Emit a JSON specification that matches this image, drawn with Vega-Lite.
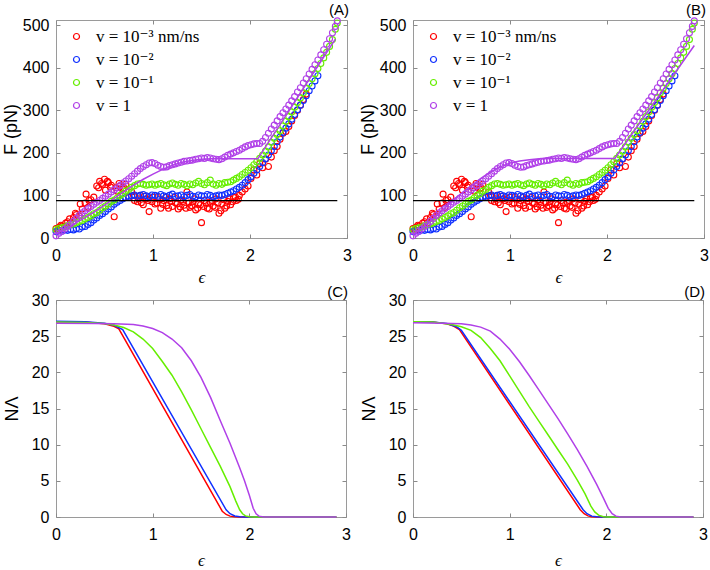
{
"$schema": "https://vega.github.io/schema/vega-lite/v6.json",
"padding": {"left": 2, "top": 2, "right": 2, "bottom": 0},
"background": "white",
"datasets": {
"pts": [
{"s":"a","e":0,"f":22},{"s":"a","e":0.02,"f":18},{"s":"a","e":0.03,"f":25},{"s":"a","e":0.05,"f":30},{"s":"a","e":0.06,"f":28},{"s":"a","e":0.09,"f":27},{"s":"a","e":0.1,"f":35},{"s":"a","e":0.12,"f":38},{"s":"a","e":0.14,"f":45},{"s":"a","e":0.15,"f":35},{"s":"a","e":0.18,"f":48},{"s":"a","e":0.2,"f":58},{"s":"a","e":0.21,"f":55},{"s":"a","e":0.24,"f":52},{"s":"a","e":0.25,"f":80},{"s":"a","e":0.27,"f":68},{"s":"a","e":0.3,"f":82},{"s":"a","e":0.31,"f":103},{"s":"a","e":0.33,"f":72},{"s":"a","e":0.34,"f":88},{"s":"a","e":0.36,"f":90},{"s":"a","e":0.39,"f":96},{"s":"a","e":0.42,"f":122},{"s":"a","e":0.44,"f":118},{"s":"a","e":0.45,"f":133},{"s":"a","e":0.47,"f":128},{"s":"a","e":0.48,"f":125},{"s":"a","e":0.5,"f":138},{"s":"a","e":0.51,"f":112},{"s":"a","e":0.53,"f":133},{"s":"a","e":0.54,"f":130},{"s":"a","e":0.56,"f":120},{"s":"a","e":0.57,"f":124},{"s":"a","e":0.6,"f":50},{"s":"a","e":0.62,"f":118},{"s":"a","e":0.63,"f":110},{"s":"a","e":0.65,"f":128},{"s":"a","e":0.66,"f":122},{"s":"a","e":0.69,"f":115},{"s":"a","e":0.7,"f":118},{"s":"a","e":0.72,"f":126},{"s":"a","e":0.75,"f":95},{"s":"a","e":0.78,"f":108},{"s":"a","e":0.8,"f":100},{"s":"a","e":0.81,"f":88},{"s":"a","e":0.84,"f":85},{"s":"a","e":0.85,"f":92},{"s":"a","e":0.87,"f":100},{"s":"a","e":0.88,"f":83},{"s":"a","e":0.9,"f":78},{"s":"a","e":0.91,"f":98},{"s":"a","e":0.93,"f":92},{"s":"a","e":0.95,"f":88},{"s":"a","e":0.96,"f":62},{"s":"a","e":0.99,"f":85},{"s":"a","e":1.0,"f":96},{"s":"a","e":1.02,"f":80},{"s":"a","e":1.04,"f":82},{"s":"a","e":1.05,"f":95},{"s":"a","e":1.07,"f":91},{"s":"a","e":1.08,"f":70},{"s":"a","e":1.1,"f":79},{"s":"a","e":1.11,"f":88},{"s":"a","e":1.13,"f":95},{"s":"a","e":1.14,"f":76},{"s":"a","e":1.16,"f":70},{"s":"a","e":1.17,"f":92},{"s":"a","e":1.19,"f":86},{"s":"a","e":1.2,"f":74},{"s":"a","e":1.22,"f":95},{"s":"a","e":1.23,"f":83},{"s":"a","e":1.25,"f":80},{"s":"a","e":1.26,"f":68},{"s":"a","e":1.28,"f":73},{"s":"a","e":1.29,"f":90},{"s":"a","e":1.31,"f":86},{"s":"a","e":1.32,"f":77},{"s":"a","e":1.34,"f":70},{"s":"a","e":1.35,"f":108},{"s":"a","e":1.37,"f":82},{"s":"a","e":1.38,"f":72},{"s":"a","e":1.4,"f":76},{"s":"a","e":1.41,"f":85},{"s":"a","e":1.43,"f":92},{"s":"a","e":1.44,"f":66},{"s":"a","e":1.46,"f":70},{"s":"a","e":1.47,"f":80},{"s":"a","e":1.49,"f":78},{"s":"a","e":1.5,"f":36},{"s":"a","e":1.52,"f":74},{"s":"a","e":1.53,"f":88},{"s":"a","e":1.55,"f":82},{"s":"a","e":1.56,"f":70},{"s":"a","e":1.58,"f":68},{"s":"a","e":1.59,"f":84},{"s":"a","e":1.61,"f":88},{"s":"a","e":1.62,"f":75},{"s":"a","e":1.64,"f":72},{"s":"a","e":1.65,"f":92},{"s":"a","e":1.67,"f":82},{"s":"a","e":1.68,"f":58},{"s":"a","e":1.7,"f":64},{"s":"a","e":1.71,"f":80},{"s":"a","e":1.73,"f":90},{"s":"a","e":1.74,"f":70},{"s":"a","e":1.76,"f":75},{"s":"a","e":1.77,"f":86},{"s":"a","e":1.79,"f":92},{"s":"a","e":1.8,"f":78},{"s":"a","e":1.82,"f":85},{"s":"a","e":1.83,"f":95},{"s":"a","e":1.85,"f":96},{"s":"a","e":1.86,"f":88},{"s":"a","e":1.88,"f":91},{"s":"a","e":1.89,"f":100},{"s":"a","e":1.92,"f":108},{"s":"a","e":1.95,"f":115},{"s":"a","e":1.98,"f":122},{"s":"a","e":2.01,"f":140},{"s":"a","e":2.04,"f":160},{"s":"a","e":2.07,"f":148},{"s":"a","e":2.1,"f":175},{"s":"a","e":2.13,"f":165},{"s":"a","e":2.16,"f":185},{"s":"a","e":2.19,"f":168},{"s":"a","e":2.22,"f":190},{"s":"a","e":2.25,"f":205},{"s":"a","e":2.28,"f":215},{"s":"a","e":2.31,"f":232},{"s":"a","e":2.34,"f":246},{"s":"a","e":2.37,"f":250},{"s":"a","e":2.4,"f":262},{"s":"a","e":2.43,"f":275},{"s":"a","e":2.46,"f":288},{"s":"a","e":2.49,"f":300},{"s":"a","e":2.52,"f":312},{"s":"a","e":2.55,"f":325},{"s":"a","e":2.58,"f":338},
{"s":"b","e":0,"f":15},{"s":"b","e":0.03,"f":17},{"s":"b","e":0.06,"f":16},{"s":"b","e":0.09,"f":19},{"s":"b","e":0.12,"f":18},{"s":"b","e":0.15,"f":20},{"s":"b","e":0.18,"f":19},{"s":"b","e":0.21,"f":22},{"s":"b","e":0.24,"f":21},{"s":"b","e":0.27,"f":26},{"s":"b","e":0.3,"f":27},{"s":"b","e":0.33,"f":32},{"s":"b","e":0.36,"f":36},{"s":"b","e":0.39,"f":42},{"s":"b","e":0.42,"f":47},{"s":"b","e":0.45,"f":53},{"s":"b","e":0.48,"f":57},{"s":"b","e":0.51,"f":62},{"s":"b","e":0.54,"f":68},{"s":"b","e":0.57,"f":73},{"s":"b","e":0.6,"f":79},{"s":"b","e":0.63,"f":84},{"s":"b","e":0.66,"f":88},{"s":"b","e":0.69,"f":92},{"s":"b","e":0.72,"f":95},{"s":"b","e":0.75,"f":98},{"s":"b","e":0.78,"f":99},{"s":"b","e":0.81,"f":101},{"s":"b","e":0.84,"f":98},{"s":"b","e":0.87,"f":100},{"s":"b","e":0.9,"f":102},{"s":"b","e":0.93,"f":99},{"s":"b","e":0.96,"f":97},{"s":"b","e":0.99,"f":101},{"s":"b","e":1.02,"f":100},{"s":"b","e":1.05,"f":98},{"s":"b","e":1.08,"f":102},{"s":"b","e":1.11,"f":99},{"s":"b","e":1.14,"f":97},{"s":"b","e":1.17,"f":100},{"s":"b","e":1.2,"f":103},{"s":"b","e":1.23,"f":98},{"s":"b","e":1.26,"f":99},{"s":"b","e":1.29,"f":101},{"s":"b","e":1.32,"f":97},{"s":"b","e":1.35,"f":100},{"s":"b","e":1.38,"f":102},{"s":"b","e":1.41,"f":98},{"s":"b","e":1.44,"f":97},{"s":"b","e":1.47,"f":101},{"s":"b","e":1.5,"f":99},{"s":"b","e":1.53,"f":98},{"s":"b","e":1.56,"f":102},{"s":"b","e":1.59,"f":100},{"s":"b","e":1.62,"f":97},{"s":"b","e":1.65,"f":99},{"s":"b","e":1.68,"f":101},{"s":"b","e":1.71,"f":100},{"s":"b","e":1.74,"f":102},{"s":"b","e":1.77,"f":105},{"s":"b","e":1.8,"f":108},{"s":"b","e":1.83,"f":111},{"s":"b","e":1.86,"f":115},{"s":"b","e":1.89,"f":119},{"s":"b","e":1.92,"f":124},{"s":"b","e":1.95,"f":130},{"s":"b","e":1.98,"f":137},{"s":"b","e":2.01,"f":144},{"s":"b","e":2.04,"f":152},{"s":"b","e":2.07,"f":160},{"s":"b","e":2.1,"f":168},{"s":"b","e":2.13,"f":177},{"s":"b","e":2.16,"f":186},{"s":"b","e":2.19,"f":195},{"s":"b","e":2.22,"f":205},{"s":"b","e":2.25,"f":215},{"s":"b","e":2.28,"f":226},{"s":"b","e":2.31,"f":237},{"s":"b","e":2.34,"f":248},{"s":"b","e":2.37,"f":258},{"s":"b","e":2.4,"f":268},{"s":"b","e":2.43,"f":279},{"s":"b","e":2.46,"f":290},{"s":"b","e":2.49,"f":301},{"s":"b","e":2.52,"f":312},{"s":"b","e":2.55,"f":323},{"s":"b","e":2.58,"f":334},{"s":"b","e":2.61,"f":346},{"s":"b","e":2.64,"f":357},{"s":"b","e":2.67,"f":369},{"s":"b","e":2.7,"f":381},
{"s":"c","e":0,"f":20},{"s":"c","e":0.03,"f":23},{"s":"c","e":0.06,"f":24},{"s":"c","e":0.09,"f":26},{"s":"c","e":0.12,"f":29},{"s":"c","e":0.15,"f":32},{"s":"c","e":0.18,"f":33},{"s":"c","e":0.21,"f":36},{"s":"c","e":0.24,"f":39},{"s":"c","e":0.27,"f":41},{"s":"c","e":0.3,"f":45},{"s":"c","e":0.33,"f":48},{"s":"c","e":0.36,"f":52},{"s":"c","e":0.39,"f":57},{"s":"c","e":0.42,"f":60},{"s":"c","e":0.45,"f":65},{"s":"c","e":0.48,"f":71},{"s":"c","e":0.51,"f":75},{"s":"c","e":0.54,"f":80},{"s":"c","e":0.57,"f":86},{"s":"c","e":0.6,"f":89},{"s":"c","e":0.63,"f":94},{"s":"c","e":0.66,"f":100},{"s":"c","e":0.69,"f":104},{"s":"c","e":0.72,"f":110},{"s":"c","e":0.75,"f":114},{"s":"c","e":0.78,"f":119},{"s":"c","e":0.81,"f":123},{"s":"c","e":0.84,"f":127},{"s":"c","e":0.87,"f":128},{"s":"c","e":0.9,"f":126},{"s":"c","e":0.93,"f":124},{"s":"c","e":0.96,"f":125},{"s":"c","e":0.99,"f":127},{"s":"c","e":1.02,"f":124},{"s":"c","e":1.05,"f":126},{"s":"c","e":1.08,"f":128},{"s":"c","e":1.11,"f":125},{"s":"c","e":1.14,"f":123},{"s":"c","e":1.17,"f":127},{"s":"c","e":1.2,"f":129},{"s":"c","e":1.23,"f":126},{"s":"c","e":1.26,"f":124},{"s":"c","e":1.29,"f":128},{"s":"c","e":1.32,"f":126},{"s":"c","e":1.35,"f":123},{"s":"c","e":1.38,"f":127},{"s":"c","e":1.41,"f":125},{"s":"c","e":1.44,"f":129},{"s":"c","e":1.47,"f":133},{"s":"c","e":1.5,"f":128},{"s":"c","e":1.53,"f":125},{"s":"c","e":1.56,"f":130},{"s":"c","e":1.59,"f":136},{"s":"c","e":1.62,"f":127},{"s":"c","e":1.65,"f":124},{"s":"c","e":1.68,"f":128},{"s":"c","e":1.71,"f":126},{"s":"c","e":1.74,"f":130},{"s":"c","e":1.77,"f":131},{"s":"c","e":1.8,"f":132},{"s":"c","e":1.83,"f":136},{"s":"c","e":1.86,"f":140},{"s":"c","e":1.89,"f":144},{"s":"c","e":1.92,"f":149},{"s":"c","e":1.95,"f":154},{"s":"c","e":1.98,"f":159},{"s":"c","e":2.01,"f":165},{"s":"c","e":2.04,"f":172},{"s":"c","e":2.07,"f":179},{"s":"c","e":2.1,"f":187},{"s":"c","e":2.13,"f":195},{"s":"c","e":2.16,"f":204},{"s":"c","e":2.19,"f":214},{"s":"c","e":2.22,"f":225},{"s":"c","e":2.25,"f":234},{"s":"c","e":2.28,"f":243},{"s":"c","e":2.31,"f":252},{"s":"c","e":2.34,"f":263},{"s":"c","e":2.37,"f":274},{"s":"c","e":2.4,"f":285},{"s":"c","e":2.43,"f":296},{"s":"c","e":2.46,"f":307},{"s":"c","e":2.49,"f":318},{"s":"c","e":2.52,"f":329},{"s":"c","e":2.55,"f":341},{"s":"c","e":2.58,"f":352},{"s":"c","e":2.61,"f":363},{"s":"c","e":2.64,"f":374},{"s":"c","e":2.67,"f":386},{"s":"c","e":2.7,"f":398},{"s":"c","e":2.73,"f":410},{"s":"c","e":2.76,"f":423},{"s":"c","e":2.79,"f":436},{"s":"c","e":2.82,"f":450},{"s":"c","e":2.85,"f":466},{"s":"c","e":2.88,"f":490},{"s":"c","e":2.9,"f":505},
{"s":"d","e":0,"f":5},{"s":"d","e":0.03,"f":11},{"s":"d","e":0.06,"f":16},{"s":"d","e":0.09,"f":21},{"s":"d","e":0.12,"f":27},{"s":"d","e":0.15,"f":33},{"s":"d","e":0.18,"f":39},{"s":"d","e":0.21,"f":46},{"s":"d","e":0.24,"f":53},{"s":"d","e":0.27,"f":59},{"s":"d","e":0.3,"f":64},{"s":"d","e":0.33,"f":69},{"s":"d","e":0.36,"f":74},{"s":"d","e":0.39,"f":79},{"s":"d","e":0.42,"f":84},{"s":"d","e":0.45,"f":88},{"s":"d","e":0.48,"f":93},{"s":"d","e":0.51,"f":98},{"s":"d","e":0.54,"f":103},{"s":"d","e":0.57,"f":108},{"s":"d","e":0.6,"f":113},{"s":"d","e":0.63,"f":118},{"s":"d","e":0.66,"f":123},{"s":"d","e":0.69,"f":129},{"s":"d","e":0.72,"f":134},{"s":"d","e":0.75,"f":139},{"s":"d","e":0.78,"f":145},{"s":"d","e":0.81,"f":151},{"s":"d","e":0.84,"f":157},{"s":"d","e":0.87,"f":163},{"s":"d","e":0.9,"f":168},{"s":"d","e":0.93,"f":172},{"s":"d","e":0.96,"f":176},{"s":"d","e":0.99,"f":177},{"s":"d","e":1.02,"f":175},{"s":"d","e":1.05,"f":171},{"s":"d","e":1.08,"f":168},{"s":"d","e":1.11,"f":166},{"s":"d","e":1.14,"f":167},{"s":"d","e":1.17,"f":170},{"s":"d","e":1.2,"f":172},{"s":"d","e":1.23,"f":174},{"s":"d","e":1.26,"f":176},{"s":"d","e":1.29,"f":178},{"s":"d","e":1.32,"f":180},{"s":"d","e":1.35,"f":181},{"s":"d","e":1.38,"f":182},{"s":"d","e":1.41,"f":183},{"s":"d","e":1.44,"f":185},{"s":"d","e":1.47,"f":186},{"s":"d","e":1.5,"f":188},{"s":"d","e":1.53,"f":187},{"s":"d","e":1.56,"f":189},{"s":"d","e":1.59,"f":188},{"s":"d","e":1.62,"f":186},{"s":"d","e":1.65,"f":185},{"s":"d","e":1.68,"f":184},{"s":"d","e":1.71,"f":186},{"s":"d","e":1.74,"f":190},{"s":"d","e":1.77,"f":194},{"s":"d","e":1.8,"f":197},{"s":"d","e":1.83,"f":200},{"s":"d","e":1.86,"f":203},{"s":"d","e":1.89,"f":206},{"s":"d","e":1.92,"f":210},{"s":"d","e":1.95,"f":214},{"s":"d","e":1.98,"f":217},{"s":"d","e":2.01,"f":219},{"s":"d","e":2.04,"f":221},{"s":"d","e":2.07,"f":222},{"s":"d","e":2.1,"f":222},{"s":"d","e":2.13,"f":227},{"s":"d","e":2.16,"f":236},{"s":"d","e":2.19,"f":246},{"s":"d","e":2.22,"f":256},{"s":"d","e":2.25,"f":265},{"s":"d","e":2.28,"f":275},{"s":"d","e":2.31,"f":285},{"s":"d","e":2.34,"f":294},{"s":"d","e":2.37,"f":303},{"s":"d","e":2.4,"f":312},{"s":"d","e":2.43,"f":322},{"s":"d","e":2.46,"f":332},{"s":"d","e":2.49,"f":343},{"s":"d","e":2.52,"f":353},{"s":"d","e":2.55,"f":364},{"s":"d","e":2.58,"f":374},{"s":"d","e":2.61,"f":385},{"s":"d","e":2.64,"f":396},{"s":"d","e":2.67,"f":407},{"s":"d","e":2.7,"f":418},{"s":"d","e":2.73,"f":430},{"s":"d","e":2.76,"f":442},{"s":"d","e":2.79,"f":455},{"s":"d","e":2.82,"f":468},{"s":"d","e":2.85,"f":482},{"s":"d","e":2.88,"f":497},{"s":"d","e":2.9,"f":510}
],
"fitA": [{"e":0,"f":10},{"e":0.1,"f":22},{"e":0.2,"f":35},{"e":0.3,"f":48},{"e":0.4,"f":62},{"e":0.5,"f":77},{"e":0.6,"f":93},{"e":0.7,"f":109},{"e":0.8,"f":124},{"e":0.9,"f":138},{"e":1.0,"f":150},{"e":1.1,"f":161},{"e":1.2,"f":171},{"e":1.3,"f":178},{"e":1.4,"f":182},{"e":1.5,"f":185},{"e":1.6,"f":186},{"e":2.08,"f":186},{"e":2.88,"f":467}],
"fitB": [{"e":0,"f":8},{"e":0.1,"f":24},{"e":0.2,"f":44},{"e":0.3,"f":64},{"e":0.4,"f":86},{"e":0.5,"f":105},{"e":0.6,"f":123},{"e":0.7,"f":140},{"e":0.8,"f":155},{"e":0.9,"f":167},{"e":1.0,"f":176},{"e":1.1,"f":181},{"e":1.2,"f":184},{"e":1.3,"f":186},{"e":1.5,"f":187},{"e":2.08,"f":187},{"e":2.9,"f":452}],
"blk": [{"e":0,"f":88},{"e":2.9,"f":88}],
"nC": [
{"s":"a","e":0,"n":27.0},{"s":"a","e":0.3,"n":26.95},{"s":"a","e":0.5,"n":26.7},{"s":"a","e":0.55,"n":26.55},{"s":"a","e":0.6,"n":26.35},{"s":"a","e":0.65,"n":26.0},{"s":"a","e":1.72,"n":0.8},{"s":"a","e":1.76,"n":0.35},{"s":"a","e":1.8,"n":0.12},{"s":"a","e":1.85,"n":0.02},{"s":"a","e":1.9,"n":0},{"s":"a","e":2.9,"n":0},
{"s":"b","e":0,"n":27.05},{"s":"b","e":0.3,"n":27.0},{"s":"b","e":0.5,"n":26.8},{"s":"b","e":0.6,"n":26.5},{"s":"b","e":0.69,"n":25.9},{"s":"b","e":1.76,"n":1.0},{"s":"b","e":1.8,"n":0.45},{"s":"b","e":1.85,"n":0.15},{"s":"b","e":1.9,"n":0.03},{"s":"b","e":1.95,"n":0},{"s":"b","e":2.9,"n":0},
{"s":"c","e":0,"n":26.95},{"s":"c","e":0.3,"n":26.9},{"s":"c","e":0.5,"n":26.75},{"s":"c","e":0.6,"n":26.55},{"s":"c","e":0.7,"n":26.2},{"s":"c","e":0.8,"n":25.6},{"s":"c","e":0.9,"n":24.6},{"s":"c","e":1.0,"n":23.3},{"s":"c","e":1.1,"n":21.5},{"s":"c","e":1.2,"n":19.6},{"s":"c","e":1.3,"n":17.3},{"s":"c","e":1.4,"n":14.8},{"s":"c","e":1.5,"n":12.2},{"s":"c","e":1.6,"n":9.6},{"s":"c","e":1.7,"n":7.0},{"s":"c","e":1.8,"n":4.2},{"s":"c","e":1.86,"n":2.2},{"s":"c","e":1.9,"n":1.0},{"s":"c","e":1.93,"n":0.45},{"s":"c","e":1.96,"n":0.15},{"s":"c","e":2.0,"n":0.03},{"s":"c","e":2.05,"n":0},{"s":"c","e":2.9,"n":0},
{"s":"d","e":0,"n":26.8},{"s":"d","e":0.4,"n":26.75},{"s":"d","e":0.6,"n":26.7},{"s":"d","e":0.8,"n":26.6},{"s":"d","e":0.9,"n":26.4},{"s":"d","e":1.0,"n":26.05},{"s":"d","e":1.1,"n":25.5},{"s":"d","e":1.2,"n":24.6},{"s":"d","e":1.3,"n":23.4},{"s":"d","e":1.4,"n":21.6},{"s":"d","e":1.5,"n":19.3},{"s":"d","e":1.6,"n":16.5},{"s":"d","e":1.7,"n":13.3},{"s":"d","e":1.8,"n":10.2},{"s":"d","e":1.9,"n":6.8},{"s":"d","e":1.95,"n":5.0},{"s":"d","e":2.0,"n":3.0},{"s":"d","e":2.04,"n":1.2},{"s":"d","e":2.07,"n":0.45},{"s":"d","e":2.1,"n":0.12},{"s":"d","e":2.15,"n":0},{"s":"d","e":2.9,"n":0}
],
"nD": [
{"s":"a","e":0,"n":27.0},{"s":"a","e":0.2,"n":26.95},{"s":"a","e":0.35,"n":26.7},{"s":"a","e":0.42,"n":26.4},{"s":"a","e":0.48,"n":25.9},{"s":"a","e":1.73,"n":1.0},{"s":"a","e":1.77,"n":0.45},{"s":"a","e":1.81,"n":0.15},{"s":"a","e":1.85,"n":0.03},{"s":"a","e":1.9,"n":0},{"s":"a","e":2.9,"n":0},
{"s":"b","e":0,"n":27.0},{"s":"b","e":0.2,"n":26.95},{"s":"b","e":0.35,"n":26.75},{"s":"b","e":0.45,"n":26.3},{"s":"b","e":0.5,"n":25.8},{"s":"b","e":1.76,"n":1.0},{"s":"b","e":1.8,"n":0.45},{"s":"b","e":1.85,"n":0.12},{"s":"b","e":1.9,"n":0.02},{"s":"b","e":1.95,"n":0},{"s":"b","e":2.9,"n":0},
{"s":"c","e":0,"n":27.0},{"s":"c","e":0.2,"n":26.95},{"s":"c","e":0.4,"n":26.6},{"s":"c","e":0.5,"n":26.3},{"s":"c","e":0.6,"n":25.8},{"s":"c","e":0.7,"n":24.8},{"s":"c","e":0.8,"n":23.3},{"s":"c","e":0.9,"n":21.6},{"s":"c","e":1.0,"n":19.5},{"s":"c","e":1.1,"n":17.4},{"s":"c","e":1.2,"n":15.3},{"s":"c","e":1.3,"n":13.3},{"s":"c","e":1.4,"n":11.3},{"s":"c","e":1.5,"n":9.3},{"s":"c","e":1.6,"n":7.3},{"s":"c","e":1.7,"n":5.1},{"s":"c","e":1.78,"n":3.2},{"s":"c","e":1.84,"n":1.5},{"s":"c","e":1.88,"n":0.7},{"s":"c","e":1.92,"n":0.25},{"s":"c","e":1.97,"n":0.05},{"s":"c","e":2.02,"n":0},{"s":"c","e":2.9,"n":0},
{"s":"d","e":0,"n":26.85},{"s":"d","e":0.3,"n":26.8},{"s":"d","e":0.5,"n":26.7},{"s":"d","e":0.6,"n":26.55},{"s":"d","e":0.7,"n":26.25},{"s":"d","e":0.8,"n":25.7},{"s":"d","e":0.9,"n":24.6},{"s":"d","e":1.0,"n":23.2},{"s":"d","e":1.1,"n":21.5},{"s":"d","e":1.2,"n":19.6},{"s":"d","e":1.3,"n":17.6},{"s":"d","e":1.4,"n":15.6},{"s":"d","e":1.5,"n":13.6},{"s":"d","e":1.6,"n":11.5},{"s":"d","e":1.7,"n":9.3},{"s":"d","e":1.8,"n":7.0},{"s":"d","e":1.9,"n":4.5},{"s":"d","e":1.97,"n":2.6},{"s":"d","e":2.02,"n":1.2},{"s":"d","e":2.06,"n":0.45},{"s":"d","e":2.1,"n":0.12},{"s":"d","e":2.15,"n":0},{"s":"d","e":2.9,"n":0}
]
},
"concat": [
{
"width": 291, "height": 218,
"title": {"text": "(A)", "offset": -2},
"layer": [
{"data": {"name": "pts"}, "mark": {"type": "point", "shape": "circle", "filled": false, "size": 36, "strokeWidth": 1.1, "opacity": 1},
 "encoding": {
  "x": {"field": "e", "type": "quantitative", "scale": {"domain": [0, 3]}, "axis": {"values": [0, 1, 2, 3], "title": "ϵ"}},
  "y": {"field": "f", "type": "quantitative", "scale": {"domain": [0, 512]}, "axis": {"values": [0, 100, 200, 300, 400, 500], "title": "F (pN)", "titlePadding": 1.5}},
  "color": {"field": "s", "type": "nominal", "scale": {"domain": ["a", "b", "c", "d"], "range": ["#ff0000", "#1030ff", "#66ee00", "#b040e8"]},
   "legend": {"title": null, "orient": "none", "legendX": 12, "legendY": 8, "padding": 0, "rowPadding": 5, "labelFont": "Liberation Serif, DejaVu Serif", "labelFontSize": 17, "labelOffset": 11, "symbolSize": 36, "symbolStrokeWidth": 1.2,
    "labelExpr": "datum.label == 'a' ? 'v = 10⁻³ nm/ns' : datum.label == 'b' ? 'v = 10⁻²' : datum.label == 'c' ? 'v = 10⁻¹' : 'v = 1'"}}
 }},
{"data": {"name": "fitA"}, "mark": {"type": "line", "color": "#b040e8", "strokeWidth": 1.5},
 "encoding": {"x": {"field": "e", "type": "quantitative", "scale": {"domain": [0, 3]}, "axis": null}, "y": {"field": "f", "type": "quantitative", "scale": {"domain": [0, 512]}, "axis": null}}},
{"data": {"name": "blk"}, "mark": {"type": "line", "color": "#000000", "strokeWidth": 1.3},
 "encoding": {"x": {"field": "e", "type": "quantitative", "scale": {"domain": [0, 3]}, "axis": {"orient": "top", "labels": false, "title": null, "values": [0, 1, 2, 3]}}, "y": {"field": "f", "type": "quantitative", "scale": {"domain": [0, 512]}, "axis": {"orient": "right", "labels": false, "title": null, "values": [0, 100, 200, 300, 400, 500]}}}}
],
"resolve": {"axis": {"x": "independent", "y": "independent"}}
},
{
"width": 291, "height": 218,
"title": {"text": "(B)", "offset": -2},
"layer": [
{"data": {"name": "pts"}, "mark": {"type": "point", "shape": "circle", "filled": false, "size": 36, "strokeWidth": 1.1, "opacity": 1},
 "encoding": {
  "x": {"field": "e", "type": "quantitative", "scale": {"domain": [0, 3]}, "axis": {"values": [0, 1, 2, 3], "title": "ϵ"}},
  "y": {"field": "f", "type": "quantitative", "scale": {"domain": [0, 512]}, "axis": {"values": [0, 100, 200, 300, 400, 500], "title": "F (pN)", "titlePadding": 1.5}},
  "color": {"field": "s", "type": "nominal", "scale": {"domain": ["a", "b", "c", "d"], "range": ["#ff0000", "#1030ff", "#66ee00", "#b040e8"]},
   "legend": {"title": null, "orient": "none", "legendX": 12, "legendY": 8, "padding": 0, "rowPadding": 5, "labelFont": "Liberation Serif, DejaVu Serif", "labelFontSize": 17, "labelOffset": 11, "symbolSize": 36, "symbolStrokeWidth": 1.2,
    "labelExpr": "datum.label == 'a' ? 'v = 10⁻³ nm/ns' : datum.label == 'b' ? 'v = 10⁻²' : datum.label == 'c' ? 'v = 10⁻¹' : 'v = 1'"}}
 }},
{"data": {"name": "fitB"}, "mark": {"type": "line", "color": "#b040e8", "strokeWidth": 1.5},
 "encoding": {"x": {"field": "e", "type": "quantitative", "scale": {"domain": [0, 3]}, "axis": null}, "y": {"field": "f", "type": "quantitative", "scale": {"domain": [0, 512]}, "axis": null}}},
{"data": {"name": "blk"}, "mark": {"type": "line", "color": "#000000", "strokeWidth": 1.3},
 "encoding": {"x": {"field": "e", "type": "quantitative", "scale": {"domain": [0, 3]}, "axis": {"orient": "top", "labels": false, "title": null, "values": [0, 1, 2, 3]}}, "y": {"field": "f", "type": "quantitative", "scale": {"domain": [0, 512]}, "axis": {"orient": "right", "labels": false, "title": null, "values": [0, 100, 200, 300, 400, 500]}}}}
],
"resolve": {"axis": {"x": "independent", "y": "independent"}}
},
{
"width": 290, "height": 217,
"title": {"text": "(C)", "offset": -8},
"layer": [
{"data": {"name": "nC"}, "mark": {"type": "line", "strokeWidth": 1.5},
 "encoding": {
  "x": {"field": "e", "type": "quantitative", "scale": {"domain": [0, 3]}, "axis": {"values": [0, 1, 2, 3], "title": "ϵ", "titlePadding": 10}},
  "y": {"field": "n", "type": "quantitative", "scale": {"domain": [0, 30]}, "axis": {"values": [0, 5, 10, 15, 20, 25, 30], "title": "NΛ", "titlePadding": 10}},
  "color": {"field": "s", "type": "nominal", "scale": {"domain": ["a", "b", "c", "d"], "range": ["#ff0000", "#1030ff", "#66ee00", "#b040e8"]}, "legend": null}
 }},
{"data": {"name": "nC"}, "mark": {"type": "line", "strokeOpacity": 0},
 "encoding": {"detail": {"field": "s"}, "x": {"field": "e", "type": "quantitative", "scale": {"domain": [0, 3]}, "axis": {"orient": "top", "labels": false, "title": null, "values": [0, 1, 2, 3]}}, "y": {"field": "n", "type": "quantitative", "scale": {"domain": [0, 30]}, "axis": {"orient": "right", "labels": false, "title": null, "values": [0, 5, 10, 15, 20, 25, 30]}}}}
],
"resolve": {"axis": {"x": "independent", "y": "independent"}}
},
{
"width": 290, "height": 217,
"title": {"text": "(D)", "offset": -8},
"layer": [
{"data": {"name": "nD"}, "mark": {"type": "line", "strokeWidth": 1.5},
 "encoding": {
  "x": {"field": "e", "type": "quantitative", "scale": {"domain": [0, 3]}, "axis": {"values": [0, 1, 2, 3], "title": "ϵ", "titlePadding": 10}},
  "y": {"field": "n", "type": "quantitative", "scale": {"domain": [0, 30]}, "axis": {"values": [0, 5, 10, 15, 20, 25, 30], "title": "NΛ", "titlePadding": 10}},
  "color": {"field": "s", "type": "nominal", "scale": {"domain": ["a", "b", "c", "d"], "range": ["#ff0000", "#1030ff", "#66ee00", "#b040e8"]}, "legend": null}
 }},
{"data": {"name": "nD"}, "mark": {"type": "line", "strokeOpacity": 0},
 "encoding": {"detail": {"field": "s"}, "x": {"field": "e", "type": "quantitative", "scale": {"domain": [0, 3]}, "axis": {"orient": "top", "labels": false, "title": null, "values": [0, 1, 2, 3]}}, "y": {"field": "n", "type": "quantitative", "scale": {"domain": [0, 30]}, "axis": {"orient": "right", "labels": false, "title": null, "values": [0, 5, 10, 15, 20, 25, 30]}}}}
],
"resolve": {"axis": {"x": "independent", "y": "independent"}}
}
],
"columns": 2,
"spacing": {"row": -2, "column": 7},
"resolve": {"scale": {"color": "independent"}, "legend": {"color": "independent"}},
"config": {
 "view": {"stroke": "#9a9a9a", "strokeWidth": 1},
 "axis": {"grid": false, "domain": false, "ticks": true, "tickColor": "#8a8a8a", "tickSize": -4, "tickWidth": 1, "labelFont": "Liberation Sans", "labelFontSize": 16, "labelColor": "#000000", "labelPadding": 11, "labelFlush": false, "titleFont": "Liberation Sans", "titleFontSize": 18, "titleFontWeight": "normal", "titleColor": "#000000"},
 "axisX": {"titleFont": "Liberation Serif, DejaVu Serif", "titleFontStyle": "italic", "titleFontSize": 17, "titlePadding": 6, "labelPadding": 13},
 "title": {"font": "Liberation Sans", "fontSize": 15, "fontWeight": "normal", "anchor": "end", "frame": "group", "dx": 2, "color": "#000000"}
}
}
